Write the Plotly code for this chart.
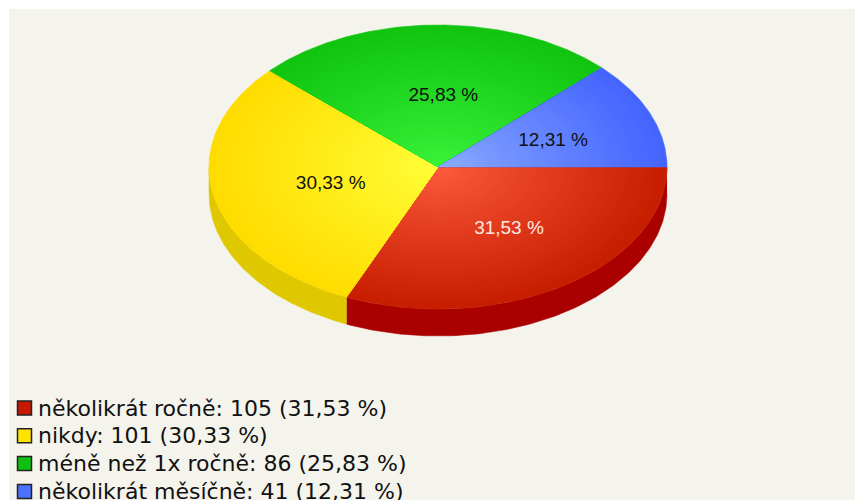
import numpy as np
import plotly.graph_objects as go

# ---- data ----
categories = ["několikrát ročně", "nikdy", "méně než 1x ročně", "několikrát měsíčně"]
counts = [105, 101, 86, 41]

# ---- styles ----
edge_colors = ["#C81E00", "#FFDC00", "#10C410", "#4464FF"]
center_colors = ["#FF5C3E", "#FFFF3A", "#3CF43C", "#8CAEFF"]
wall_colors = ["#AA0000", "#E0C800", "#0A9A0A", "#3048C0"]
legend_colors = ["#C41A00", "#FFE400", "#10C010", "#4A72FF"]
label_colors = ["#FFE8E0", "#111111", "#111111", "#111111"]

W, H = 863, 500
OFF = 8  # page body margin: data coordinates = window pixels
cx, cy, rx, ry, depth = 438, 167, 229, 142, 27


def hex2rgb(h):
    h = h.lstrip("#")
    return np.array([int(h[i:i + 2], 16) for i in (0, 2, 4)], dtype=float)


def mix(c1, c2, t):
    a, b = hex2rgb(c1), hex2rgb(c2)
    c = a + (b - a) * t
    return "rgb(%d,%d,%d)" % tuple(np.clip(np.round(c), 0, 255))


total = sum(counts)
fracs = [c / total for c in counts]
pcts = [f"{100 * f:.2f}".replace(".", ",") for f in fracs]
bounds = np.concatenate([[0], np.cumsum(fracs)]) * 2 * np.pi

fig = go.Figure()

# side walls (front half only, angle in [0, pi], y grows downward)
for i in range(len(counts)):
    a, b = bounds[i], bounds[i + 1]
    a2, b2 = max(a, 0), min(b, np.pi)
    if b2 <= a2:
        continue
    th = np.linspace(a2, b2, 120)
    xt = cx + rx * np.cos(th)
    yt = cy + ry * np.sin(th)
    xs = np.concatenate([xt, xt[::-1]])
    ys = np.concatenate([yt, (yt + depth)[::-1]])
    fig.add_trace(go.Scatter(x=xs, y=ys, fill="toself", mode="lines",
                             line=dict(width=0.5, color=wall_colors[i]),
                             fillcolor=wall_colors[i], hoverinfo="skip",
                             showlegend=False))

# top faces with radial gradient (nested sectors)
N = 40
for i in range(len(counts)):
    a, b = bounds[i], bounds[i + 1]
    th = np.linspace(a, b, 160)
    for k in range(N):
        s = 1 - k / N
        xs = np.concatenate([[cx], cx + s * rx * np.cos(th), [cx]])
        ys = np.concatenate([[cy], cy + s * ry * np.sin(th), [cy]])
        col = mix(center_colors[i], edge_colors[i], s ** 0.9)
        fig.add_trace(go.Scatter(x=xs, y=ys, fill="toself", mode="lines",
                                 line=dict(width=0.6 if k == 0 else 0, color=col),
                                 fillcolor=col, hoverinfo="skip",
                                 showlegend=False))

# slice labels
mids = (bounds[:-1] + bounds[1:]) / 2
lx = cx + 0.51 * rx * np.cos(mids) + 7
ly = cy + 0.51 * ry * np.sin(mids) + 2
fig.add_trace(go.Scatter(x=lx, y=ly, mode="text",
                         text=[f"{p} %" for p in pcts],
                         textfont=dict(family="Liberation Sans", size=19,
                                       color=label_colors),
                         hoverinfo="skip", showlegend=False))

# legend (keys + text)
shapes = [dict(type="rect", xref="x", yref="y", x0=9, x1=W + OFF + 2,
               y0=9, y1=H + OFF + 2,
               fillcolor="#F4F3EC", line=dict(width=0), layer="below")]
annotations = []
row0, step = 408, 27.8
for i in range(len(counts)):
    yc = row0 + i * step
    shapes.append(dict(type="rect", xref="x", yref="y", x0=17.5, x1=31.5,
                       y0=yc - 7, y1=yc + 7, fillcolor=legend_colors[i],
                       line=dict(color="#222222", width=1.5), layer="above"))
    annotations.append(dict(xref="x", yref="y", x=36, y=yc, xanchor="left",
                            yanchor="middle", showarrow=False,
                            text=f"{categories[i]}: {counts[i]} ({pcts[i]} %)",
                            font=dict(family="DejaVu Sans", size=22,
                                      color="#111111")))

fig.update_layout(
    width=W, height=H,
    margin=dict(l=0, r=0, t=0, b=0),
    paper_bgcolor="white", plot_bgcolor="rgba(0,0,0,0)",
    xaxis=dict(range=[OFF, W + OFF], visible=False, fixedrange=True),
    yaxis=dict(range=[H + OFF, OFF], visible=False, fixedrange=True),
    shapes=shapes, annotations=annotations, showlegend=False,
)

fig.write_html("out.html")
